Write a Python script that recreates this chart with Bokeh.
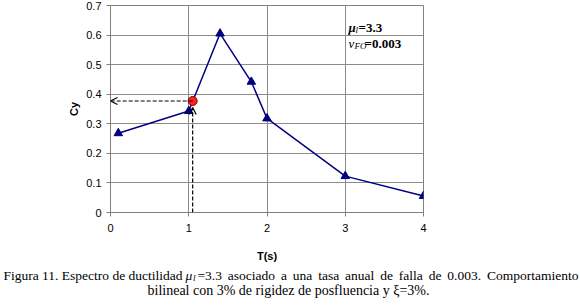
from bokeh.plotting import figure
from bokeh.layouts import column
from bokeh.models import Label, Arrow, OpenHead, FixedTicker, Range1d
from bokeh.embed import file_html
from bokeh.resources import INLINE

# ---- data ----
T = [0.1, 1.0, 1.4, 1.8, 2.0, 3.0, 4.0]
Cy = [0.268, 0.343, 0.605, 0.442, 0.318, 0.123, 0.056]
T_sel = [1.05]
Cy_sel = [0.377]
x_ticks = [0, 1, 2, 3, 4]
x_tick_labels = ["0", "1", "2", "3", "4"]
y_ticks = [0, 0.1, 0.2, 0.3, 0.4, 0.5, 0.6, 0.7]
y_tick_labels = ["0", "0.1", "0.2", "0.3", "0.4", "0.5", "0.6", "0.7"]

W = 580
H_PLOT, H_CAP = 265, 42
LEFT, RIGHT, TOP = 110, 157, 5
FRAME_BOTTOM = 212
BOTTOM = H_PLOT - FRAME_BOTTOM
XMAX, YMAX = 4, 0.7
FRAME_W = W - LEFT - RIGHT
FRAME_H = FRAME_BOTTOM - TOP


def xd(px):
    # canvas pixel column -> data x (for text placement)
    return (px - LEFT) * XMAX / FRAME_W


def yd(px):
    # canvas pixel row -> data y (for text placement)
    return (FRAME_BOTTOM - px) * YMAX / FRAME_H


p = figure(width=W, height=H_PLOT, x_range=Range1d(0, XMAX), y_range=Range1d(0, YMAX),
           output_backend="svg", toolbar_location=None, frame_align=False,
           min_border_left=LEFT, min_border_right=RIGHT,
           min_border_top=TOP, min_border_bottom=BOTTOM)
p.background_fill_color = "white"
p.border_fill_color = "white"
p.outline_line_color = "#808080"
p.outline_line_width = 1

# axes
for ax in (p.xaxis, p.yaxis):
    ax.axis_line_color = "#808080"
    ax.major_tick_line_color = "#808080"
    ax.major_tick_out = 4
    ax.major_tick_in = 0
    ax.minor_tick_line_color = None
    ax.major_label_text_font = "Liberation Sans"
    ax.major_label_text_font_size = "11px"
    ax.major_label_text_color = "black"
    ax.axis_label_text_font = "Liberation Sans"
    ax.axis_label_text_font_size = "11px"
    ax.axis_label_text_font_style = "bold"
    ax.axis_label_text_color = "black"

p.xaxis.ticker = FixedTicker(ticks=x_ticks)
p.yaxis.ticker = FixedTicker(ticks=y_ticks)
p.xaxis.major_label_overrides = {t: l for t, l in zip(x_ticks, x_tick_labels)}
p.yaxis.major_label_overrides = {t: l for t, l in zip(y_ticks, y_tick_labels)}
p.xaxis.axis_label = "T(s)"
p.yaxis.axis_label = "Cy"
p.xaxis.major_label_standoff = 7
p.xaxis.axis_label_standoff = 15
p.yaxis.major_label_standoff = 5
p.yaxis.axis_label_standoff = 3

p.xgrid.ticker = FixedTicker(ticks=x_ticks)
p.ygrid.ticker = FixedTicker(ticks=y_ticks)
p.xgrid.grid_line_color = "#8c8c8c"
p.ygrid.grid_line_color = "#8c8c8c"
p.xgrid.grid_line_width = 1
p.ygrid.grid_line_width = 1

# dashed arrows
p.add_layout(Arrow(end=OpenHead(size=7, line_width=1.2, line_color="black"),
                   x_start=T_sel[0], y_start=Cy_sel[0], x_end=0, y_end=Cy_sel[0],
                   line_dash="4 2", line_width=1.2, line_color="black"))
p.add_layout(Arrow(end=OpenHead(size=7, line_width=1.2, line_color="black"),
                   x_start=T_sel[0], y_start=0, x_end=T_sel[0], y_end=Cy_sel[0] - 0.022,
                   line_dash="4 2", line_width=1.2, line_color="black"))

# series
p.line(T, Cy, line_color="#000080", line_width=1.5)
p.scatter(T, Cy, marker="triangle", size=8.5, fill_color="#000080", line_color="#000080")
p.scatter(T_sel, Cy_sel, marker="circle", size=9, fill_color="#ff2020", line_color="#7a0000",
          line_width=1)


def lab(fig, text, x, y, size="13.5px", style="normal", align="left", font="Liberation Serif"):
    fig.add_layout(Label(x=x, y=y, x_units="data", y_units="data", text=text,
                         text_font=font, text_font_size=size, text_font_style=style,
                         text_align=align, text_baseline="alphabetic", text_color="black"))


# annotation inside plot
lab(p, "μ", xd(348), yd(27), size="13px", style="bold italic")
lab(p, "l", xd(355), yd(29.5), size="9px", style="italic")
lab(p, "=3.3", xd(358), yd(27), size="13px", style="bold")
lab(p, "ν", xd(348), yd(43), size="13px", style="italic")
lab(p, "FO", xd(354), yd(45.5), size="9px", style="italic")
lab(p, "=0.003", xd(364), yd(43), size="13px", style="bold")

# caption panel (coordinates = pixels, y downward)
cap = figure(width=W, height=H_CAP, x_range=Range1d(0, W), y_range=Range1d(H_CAP, 0),
             output_backend="svg", toolbar_location=None, frame_align=False,
             x_axis_type=None, y_axis_type=None,
             min_border_left=0, min_border_right=0, min_border_top=0, min_border_bottom=0)
cap.outline_line_color = None
cap.background_fill_color = "white"
cap.border_fill_color = "white"
cap.xgrid.visible = False
cap.ygrid.visible = False

# Times-like advance widths (per em) used to justify the first caption line
ADV = {"=": 0.564, "3": 0.5, ".": 0.25, "0": 0.5, "a": 0.444, "s": 0.389, "o": 0.5,
       "c": 0.444, "i": 0.278, "d": 0.5, "u": 0.5, "n": 0.5, "t": 0.278, "l": 0.278,
       "e": 0.444, "f": 0.333, "C": 0.667, "m": 0.778, "p": 0.5, "r": 0.333}
CAP_PX = 13.5


def word_w(w):
    return sum(ADV.get(ch, 0.5) for ch in w) * CAP_PX


# first caption line (justified across the width)
lab(cap, "Figura 11. Espectro de ductilidad", 3, 10)
lab(cap, "μ", 185, 10, style="italic")
lab(cap, "l", 192.5, 12.5, size="9px", style="italic")
words = "=3.3 asociado a una tasa anual de falla de 0.003. Comportamiento".split()
x0, x1 = 197, 578
widths = [word_w(w) for w in words]
gap = (x1 - x0 - sum(widths)) / (len(words) - 1)
xpos = x0
for w, wd in zip(words[:-1], widths[:-1]):
    lab(cap, w, xpos, 10)
    xpos += wd + gap
lab(cap, words[-1], x1, 10, align="right")
# second caption line (centred)
lab(cap, "bilineal con 3% de rigidez de posfluencia y ξ=3%.", 288, 25, size="14px",
    align="center")

layout = column(p, cap, spacing=0)
open("out.html", "w").write(file_html(layout, INLINE))
